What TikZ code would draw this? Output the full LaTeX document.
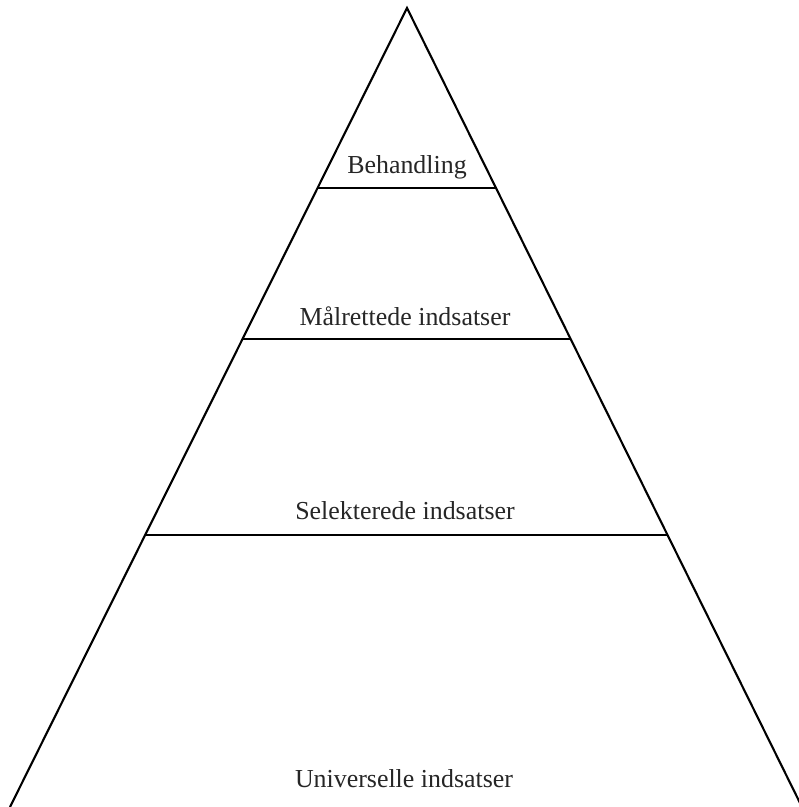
\documentclass[tikz,border=0pt]{standalone}
\usepackage{fontspec}
\setmainfont{Liberation Serif}
\usetikzlibrary{calc}
\begin{document}
\begin{tikzpicture}[x=1bp,y=-1bp,
  edge/.style={draw=black,line width=2.1bp},
  label/.style={anchor=base,inner sep=0pt,font=\fontsize{26}{31}\selectfont,text=black!85}]
\useasboundingbox[fill=white] (0,0) rectangle (799,807);
\begin{scope}
\clip (0,0) rectangle (799,807);
\coordinate (apex) at (407,8);
\coordinate (bl) at (10,807);
\coordinate (br) at (802,807);
\draw[edge] (bl) -- (apex) -- (br);
% level lines at y = 188, 339, 535
\coordinate (l1) at ($(apex)!{(188-8)/799}!(bl)$);
\coordinate (r1) at ($(apex)!{(188-8)/799}!(br)$);
\coordinate (l2) at ($(apex)!{(339-8)/799}!(bl)$);
\coordinate (r2) at ($(apex)!{(339-8)/799}!(br)$);
\coordinate (l3) at ($(apex)!{(535-8)/799}!(bl)$);
\coordinate (r3) at ($(apex)!{(535-8)/799}!(br)$);
\draw[edge] (l1) -- (r1);
\draw[edge] (l2) -- (r2);
\draw[edge] (l3) -- (r3);
\end{scope}
\node[label] (t1) at (407,173) {Behandling};
\node[label] (t2) at (405,325) {Målrettede indsatser};
\node[label] (t3) at (405,519) {Selekterede indsatser};
\node[label] (t4) at (404,787) {Universelle indsatser};
\end{tikzpicture}
\end{document}
